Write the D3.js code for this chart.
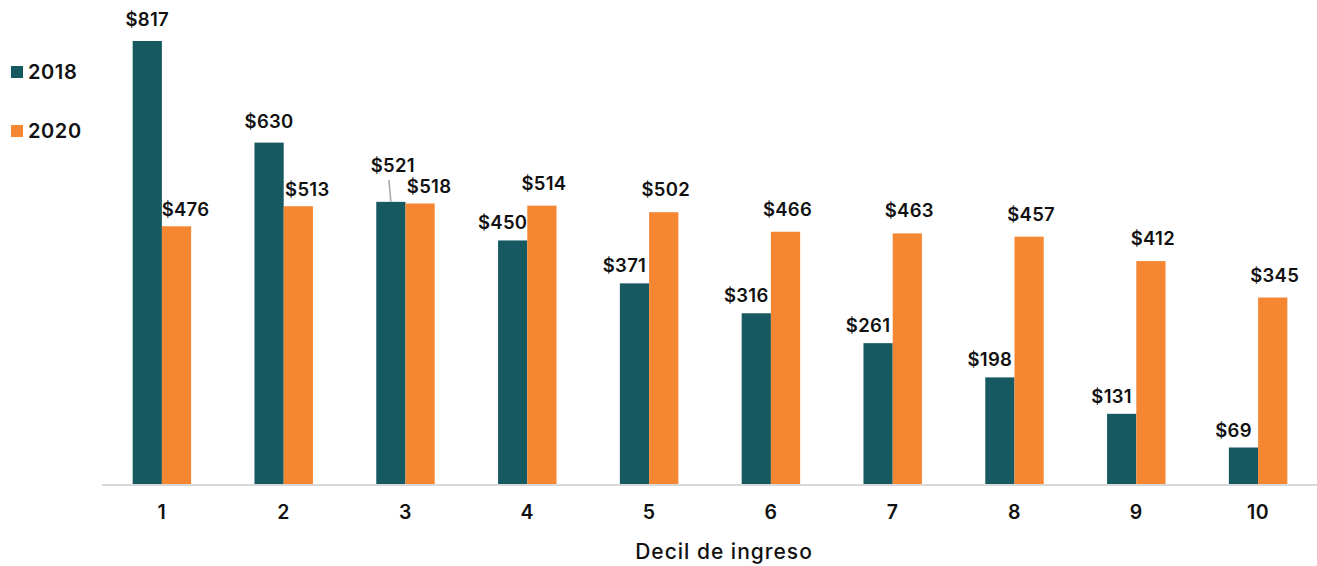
<!DOCTYPE html>
<html>
<head>
<meta charset="utf-8">
<script src="https://cdn.jsdelivr.net/npm/d3@7"></script>
<style>
  body { margin: 0; background: #fff; }
  svg { display: block; font-family: Inter, "DejaVu Sans", sans-serif; }
</style>
</head>
<body>
<svg id="canvas"></svg>
<script>
let deciles = ['1', '2', '3', '4', '5', '6', '7', '8', '9', '10']
let values2018 = [817, 630, 521, 450, 371, 316, 261, 198, 131, 69]
let values2020 = [476, 513, 518, 514, 502, 466, 463, 457, 412, 345]
let seriesNames = ['2018', '2020']
let colors = ['#165961', '#f58733']

let w = 1317
let h = 566
let baseY = 485

let canvas = d3.select('#canvas')
  .attr('width', w)
  .attr('height', h)

let xScale = d3.scaleBand()
  .domain(deciles)
  .range([101, 1319])
  .paddingInner(0.52)
  .paddingOuter(0.26)

let subScale = d3.scaleBand()
  .domain(seriesNames)
  .range([0, xScale.bandwidth()])

let yScale = d3.scaleLinear()
  .domain([0, 817])
  .range([baseY, 41])

let rows = deciles.map((d, i) => ({ decil: d, v2018: values2018[i], v2020: values2020[i] }))

// bars
seriesNames.forEach((s, si) => {
  canvas.selectAll('rect.s' + s)
    .data(rows)
    .enter()
    .append('rect')
    .attr('class', 's' + s)
    .attr('x', d => xScale(d.decil) + subScale(s))
    .attr('width', subScale.bandwidth())
    .attr('y', d => yScale(d['v' + s]))
    .attr('height', d => baseY - yScale(d['v' + s]))
    .attr('fill', colors[si])
})

// axis
let xAxis = d3.axisBottom(xScale).tickSize(0).tickPadding(20)
let gx = canvas.append('g')
  .attr('transform', 'translate(0,' + baseY + ')')
  .call(xAxis)
gx.select('.domain').remove()
gx.append('line')
  .attr('x1', 102).attr('x2', w)
  .attr('y1', 0).attr('y2', 0)
  .attr('stroke', '#d9d9d9')
  .attr('stroke-width', 2)
gx.selectAll('.tick text')
  .attr('fill', '#111')
  .attr('font-size', 19.5)
  .attr('font-weight', 600)
  .attr('letter-spacing', 0.5)
  .attr('font-family', 'Inter, "DejaVu Sans", sans-serif')

canvas.append('text')
  .attr('x', 724)
  .attr('y', 559)
  .attr('text-anchor', 'middle')
  .attr('font-size', 21)
  .attr('font-weight', 500)
  .attr('letter-spacing', 1)
  .attr('fill', '#111')
  .text('Decil de ingreso')

// value labels
let fmt = v => '$' + v
rows.forEach(d => {
  let x18 = xScale(d.decil) + subScale('2018') + subScale.bandwidth() / 2
  let x20 = xScale(d.decil) + subScale('2020') + subScale.bandwidth() / 2
  let close = Math.abs(d.v2018 - d.v2020) < 20
  let shifted = d.v2020 > d.v2018 && !close
  let y18 = yScale(d.v2018) - (shifted ? 11 : 15) - (close ? 15 : 0)

  canvas.append('text')
    .attr('x', x18 + (shifted ? -10 : 0) + (close ? 2 : 0))
    .attr('y', y18)
    .attr('text-anchor', 'middle')
    .attr('font-size', 18.5)
    .attr('font-weight', 600)
    .attr('letter-spacing', 0.3)
    .attr('fill', '#111')
    .text(fmt(d.v2018))

  if (close) {
    canvas.append('line')
      .attr('x1', x18 - 2).attr('y1', y18 + 8)
      .attr('x2', x18).attr('y2', yScale(d.v2018))
      .attr('stroke', '#a6a6a6')
      .attr('stroke-width', 1.5)
  }

  let beside = d.v2018 >= d.v2020
  canvas.append('text')
    .attr('x', x20 + (beside ? 9 : 2))
    .attr('y', yScale(d.v2020) - (beside ? 10 : 16))
    .attr('text-anchor', 'middle')
    .attr('font-size', 18.5)
    .attr('font-weight', 600)
    .attr('letter-spacing', 0.3)
    .attr('fill', '#111')
    .text(fmt(d.v2020))
})

// legend
let legend = canvas.append('g')
seriesNames.forEach((s, i) => {
  let ly = 72 + i * 59
  legend.append('rect')
    .attr('x', 11).attr('y', ly - 6)
    .attr('width', 12).attr('height', 12)
    .attr('fill', colors[i])
  legend.append('text')
    .attr('x', 28).attr('y', ly + 7)
    .attr('font-size', 20)
    .attr('font-weight', 600)
    .attr('letter-spacing', 0.6)
    .attr('fill', '#111')
    .text(s)
})
</script>
</body>
</html>
